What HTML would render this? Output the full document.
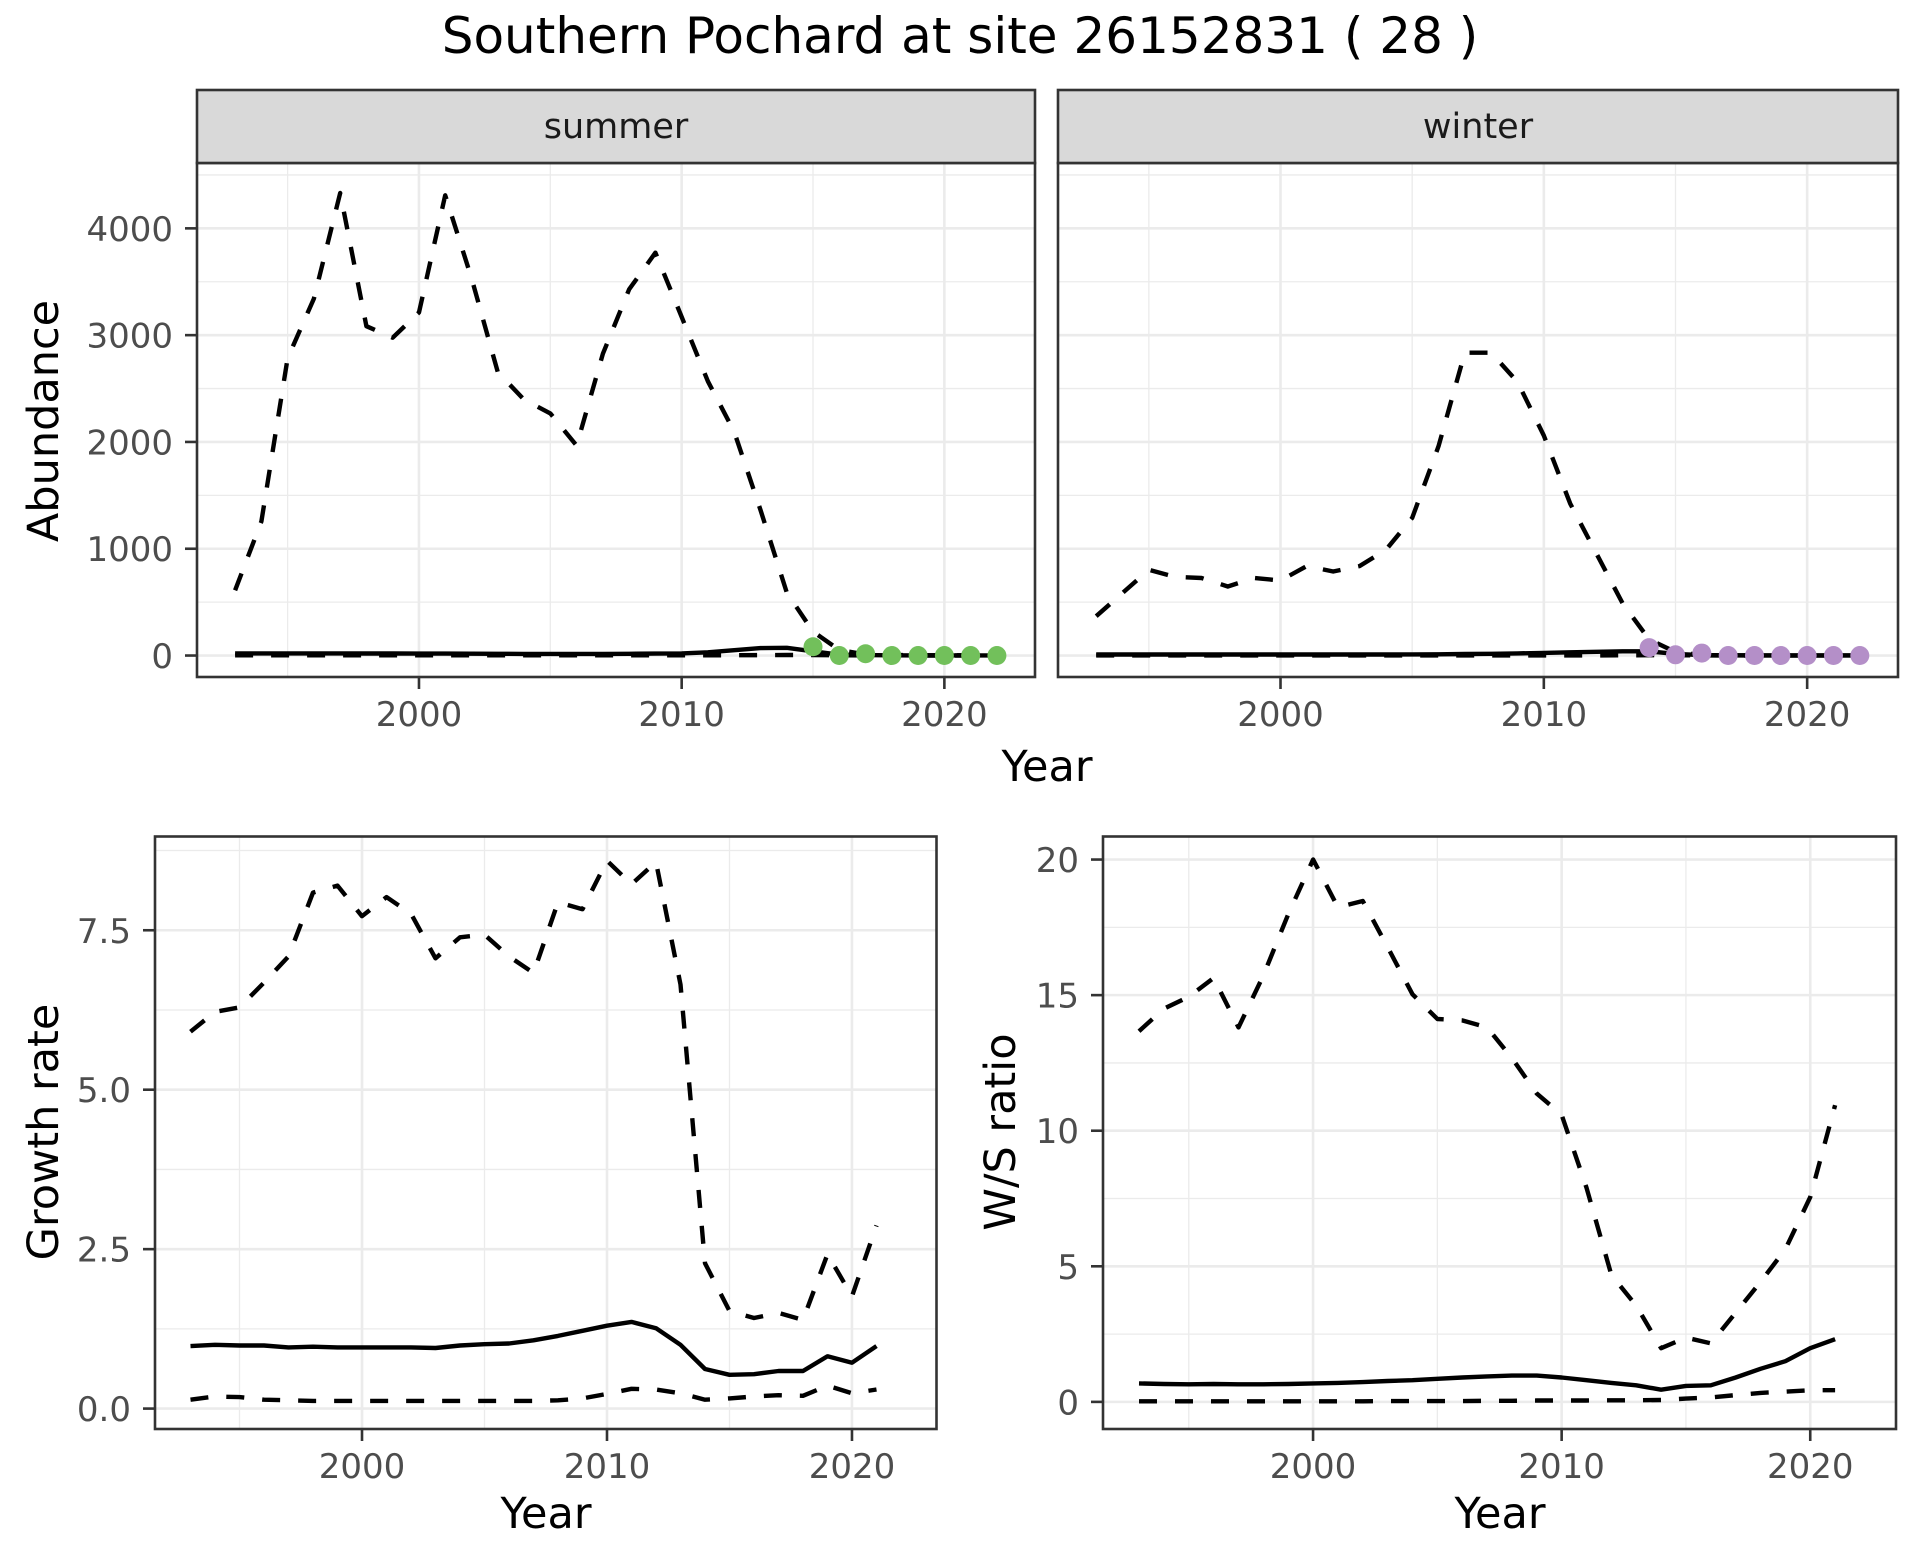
<!DOCTYPE html>
<html><head><meta charset="utf-8"><style>
html,body{margin:0;padding:0;background:#fff}
svg{display:block;font-family:"DejaVu Sans","Liberation Sans",sans-serif}
</style></head><body>
<svg id="chart" xmlns="http://www.w3.org/2000/svg" width="1920" height="1560" viewBox="0 0 1920 1560">
<rect width="1920" height="1560" fill="#fff"/>
<text x="960" y="53" font-size="50" text-anchor="middle" fill="#000">Southern Pochard at site 26152831 ( 28 )</text>
<text x="1047" y="781" font-size="43" text-anchor="middle" fill="#000">Year</text>
<text transform="translate(58,421) rotate(-90)" font-size="43" text-anchor="middle" fill="#000">Abundance</text>
<text x="546" y="1528" font-size="43" text-anchor="middle" fill="#000">Year</text>
<text transform="translate(58,1132) rotate(-90)" font-size="43" text-anchor="middle" fill="#000">Growth rate</text>
<text x="1500" y="1528" font-size="43" text-anchor="middle" fill="#000">Year</text>
<text transform="translate(1015,1132) rotate(-90)" font-size="43" text-anchor="middle" fill="#000">W/S ratio</text>
</svg>
<script>
// ---- data ----
const years = [1993,1994,1995,1996,1997,1998,1999,2000,2001,2002,2003,2004,2005,2006,2007,2008,2009,2010,2011,2012,2013,2014,2015,2016,2017,2018,2019,2020,2021,2022];
const summerUpper = [611,1256,2783,3342,4331,3084,2976,3213,4310,3535,2654,2396,2267,1966,2826,3428,3772,3170,2568,2095,1363,589,224,52,10,5,3,2,2,2];
const summerMean = [20,20,20,20,20,19,19,18,18,17,16,15,15,15,15,16,18,20,30,50,70,72,40,8,4,2,1,1,1,1];
const summerLower = [2,2,2,2,2,2,2,2,2,2,2,2,2,2,2,2,2,2,2,3,4,5,5,2,1,0,0,0,0,0];
const summerObsYears = [2015,2016,2017,2018,2019,2020,2021,2022];
const summerObs = [82,0,17,0,0,0,0,0];
const winterUpper = [368,586,803,736,726,646,726,703,837,787,837,988,1289,1959,2836,2836,2562,2060,1423,954,485,150,33,5,2,1,1,1,1,1];
const winterMean = [10,10,10,10,10,10,10,10,10,10,10,10,11,12,14,16,20,25,30,35,40,40,15,4,2,1,1,1,1,1];
const winterLower = [1,1,1,1,1,1,1,1,1,1,1,1,1,1,1,1,1,1,1,1,2,3,2,1,0,0,0,0,0,0];
const winterObsYears = [2014,2015,2016,2017,2018,2019,2020,2021,2022];
const winterObs = [74,7,23,0,0,0,0,0,0];
const gYears = [1993,1994,1995,1996,1997,1998,1999,2000,2001,2002,2003,2004,2005,2006,2007,2008,2009,2010,2011,2012,2013,2014,2015,2016,2017,2018,2019,2020,2021];
const growthUpper = [5.91,6.22,6.29,6.68,7.09,8.09,8.20,7.72,8.02,7.76,7.06,7.39,7.43,7.09,6.83,7.94,7.83,8.59,8.22,8.57,6.65,2.28,1.53,1.42,1.50,1.39,2.42,1.76,2.87];
const growthMean = [0.98,1.00,0.99,0.99,0.96,0.97,0.96,0.96,0.96,0.96,0.95,0.99,1.01,1.02,1.07,1.14,1.22,1.30,1.36,1.26,1.00,0.62,0.53,0.54,0.59,0.59,0.82,0.72,0.98];
const growthLower = [0.14,0.19,0.18,0.14,0.13,0.12,0.12,0.12,0.12,0.12,0.12,0.12,0.12,0.12,0.12,0.13,0.16,0.23,0.31,0.30,0.24,0.14,0.16,0.19,0.21,0.20,0.36,0.24,0.30];
const wsUpper = [13.67,14.50,14.94,15.63,13.81,15.72,17.98,20.0,18.24,18.47,16.77,15.03,14.12,14.07,13.81,12.68,11.37,10.59,7.90,4.68,3.55,1.98,2.37,2.16,3.29,4.42,5.63,7.55,10.94];
const wsMean = [0.68,0.66,0.65,0.66,0.65,0.65,0.66,0.68,0.70,0.73,0.77,0.80,0.85,0.90,0.94,0.97,0.97,0.90,0.80,0.70,0.61,0.45,0.59,0.61,0.90,1.22,1.50,1.98,2.31];
const wsLower = [0.02,0.02,0.02,0.02,0.02,0.02,0.02,0.02,0.02,0.02,0.03,0.03,0.03,0.03,0.04,0.04,0.05,0.05,0.05,0.06,0.06,0.07,0.12,0.16,0.25,0.33,0.38,0.43,0.43];
const xTicks = [2000,2010,2020];
const xMinor = [1995,2005,2015];
const abundTicks = [0,1000,2000,3000,4000];
const abundTickLabels = ["0","1000","2000","3000","4000"];
const abundMinor = [500,1500,2500,3500,4500];
const growthTicks = [0,2.5,5,7.5];
const growthTickLabels = ["0.0","2.5","5.0","7.5"];
const growthMinor = [1.25,3.75,6.25,8.75];
const wsTicks = [0,5,10,15,20];
const wsTickLabels = ["0","5","10","15","20"];
const wsMinor = [2.5,7.5,12.5,17.5];

const NS = "http://www.w3.org/2000/svg";
const svg = document.getElementById('chart');
function el(tag, attrs, parent){ const e=document.createElementNS(NS,tag); for(const k in attrs) e.setAttribute(k,attrs[k]); (parent||svg).appendChild(e); return e; }

function panel(name, L, R, T, B, xDom, yDom, yTicks, yLabels, yMinor, showY){
  const g = el('g',{});
  
  
  const sx = v => L + (v - xDom[0])/(xDom[1]-xDom[0])*(R-L);
  const sy = v => B - (v - yDom[0])/(yDom[1]-yDom[0])*(B-T);
  el('rect',{x:L,y:T,width:R-L,height:B-T,fill:'#fff'},g);
  yMinor.forEach(v=>{ const y=sy(v); if(y>T&&y<B){ const l=el('line',{x1:L,x2:R,y1:y,y2:y,stroke:'#ebebeb','stroke-width':1.3},g);   }});
  xMinor.forEach(v=>{ const x=sx(v); const l=el('line',{x1:x,x2:x,y1:T,y2:B,stroke:'#ebebeb','stroke-width':1.3},g);   });
  yTicks.forEach((v,i)=>{ const y=sy(v); const l=el('line',{x1:L,x2:R,y1:y,y2:y,stroke:'#ebebeb','stroke-width':2.6},g);  
    if(showY){ el('line',{x1:L-12,x2:L,y1:y,y2:y,stroke:'#333','stroke-width':2.6},g);
      const t=el('text',{x:L-24,y:y+12.5,'font-size':34,'text-anchor':'end',fill:'#4d4d4d'},g); t.textContent=yLabels[i];
        } });
  xTicks.forEach(v=>{ const x=sx(v); const l=el('line',{x1:x,x2:x,y1:T,y2:B,stroke:'#ebebeb','stroke-width':2.6},g);  
    el('line',{x1:x,x2:x,y1:B,y2:B+12,stroke:'#333','stroke-width':2.6},g);
    const t=el('text',{x:x,y:B+49,'font-size':34,'text-anchor':'middle',fill:'#4d4d4d'},g); t.textContent=String(v);
      });
  return {g, sx, sy, L, R, T, B};
}
function series(p, xs, ys, dashed, name){
  const d = xs.map((x,i)=>(i?'L':'M')+p.sx(x).toFixed(1)+' '+p.sy(ys[i]).toFixed(1)).join(' ');
  const path = el('path',{d:d,fill:'none',stroke:'#000','stroke-width':4.4,'stroke-linejoin':'round'},p.g);
  if(dashed) path.setAttribute('stroke-dasharray','18 18');
  
  
}
function points(p, xs, ys, color, name){
  xs.forEach((x,i)=>{ const c=el('circle',{cx:p.sx(x),cy:p.sy(ys[i]),r:9.5,fill:color},p.g);
    
     });
}
function border(p){ el('rect',{x:p.L,y:p.T,width:p.R-p.L,height:p.B-p.T,fill:'none',stroke:'#333','stroke-width':2.6},p.g); }
function strip(p, label){
  const s = el('g',{},svg);
  
  
  el('rect',{x:p.L,y:90,width:p.R-p.L,height:73,fill:'#d9d9d9',stroke:'#333','stroke-width':2.6},s);
  const t=el('text',{x:(p.L+p.R)/2,y:138,'font-size':35,'text-anchor':'middle',fill:'#1a1a1a'},s); t.textContent=label;
}

const xDom = [1991.55, 2023.45];
const aDom = [-201, 4612];
// summer
const ps = panel('summer', 197, 1035, 163, 677, xDom, aDom, abundTicks, abundTickLabels, abundMinor, true);
series(ps, years, summerUpper, true, 'summer-upper-ci');
series(ps, years, summerLower, true, 'summer-lower-ci');
series(ps, years, summerMean, false, 'summer-mean');
points(ps, summerObsYears, summerObs, '#72c05b', 'summer-count-point');
border(ps); strip(ps, 'summer');
// winter
const pw = panel('winter', 1058, 1898, 163, 677, xDom, aDom, abundTicks, abundTickLabels, abundMinor, false);
series(pw, years, winterUpper, true, 'winter-upper-ci');
series(pw, years, winterLower, true, 'winter-lower-ci');
series(pw, years, winterMean, false, 'winter-mean');
points(pw, winterObsYears, winterObs, '#b48fc8', 'winter-count-point');
border(pw); strip(pw, 'winter');
// growth
const pg = panel('growth', 155, 936.5, 836.5, 1429, xDom, [-0.32, 8.97], growthTicks, growthTickLabels, growthMinor, true);
series(pg, gYears, growthUpper, true, 'growth-upper-ci');
series(pg, gYears, growthLower, true, 'growth-lower-ci');
series(pg, gYears, growthMean, false, 'growth-mean');
border(pg);
// ws
const pr = panel('ws-ratio', 1103, 1896, 836.5, 1429, xDom, [-1.0, 20.85], wsTicks, wsTickLabels, wsMinor, true);
series(pr, gYears, wsUpper, true, 'ws-upper-ci');
series(pr, gYears, wsLower, true, 'ws-lower-ci');
series(pr, gYears, wsMean, false, 'ws-mean');
border(pr);
</script>
</body></html>
